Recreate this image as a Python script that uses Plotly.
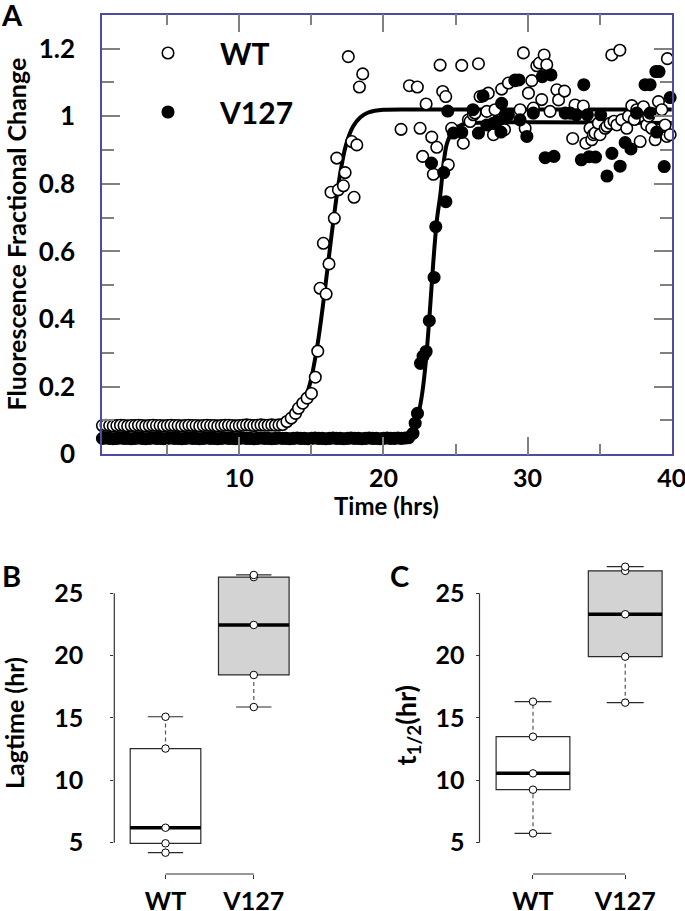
import plotly.graph_objects as go

FONT = "Lato"

# ---------------- Panel A data ----------------
wt_base_time = [0.5, 0.75, 1.0, 1.25, 1.5, 1.75, 2.0, 2.25, 2.5, 2.75, 3.0, 3.25, 3.5, 3.75,
                4.0, 4.25, 4.5, 4.75, 5.0, 5.25, 5.5, 5.75, 6.0, 6.25, 6.5, 6.75, 7.0, 7.25,
                7.5, 7.75, 8.0, 8.25, 8.5, 8.75, 9.0, 9.25, 9.5, 9.75, 10.0, 10.25, 10.5,
                10.75, 11.0, 11.25, 11.5, 11.75, 12.0, 12.25, 12.5, 12.75]
wt_base_val = [0.085, 0.086, 0.085, 0.084, 0.085, 0.086, 0.085, 0.084, 0.085, 0.085, 0.086, 0.085,
               0.084, 0.085, 0.086, 0.085, 0.085, 0.084, 0.085, 0.086, 0.085, 0.085, 0.084, 0.085,
               0.086, 0.085, 0.085, 0.084, 0.085, 0.086, 0.085, 0.085, 0.084, 0.085, 0.086, 0.086,
               0.085, 0.084, 0.085, 0.086, 0.087, 0.086, 0.085, 0.086, 0.087, 0.086, 0.086, 0.087,
               0.086, 0.087]
wt_rise_time = [13.0, 13.3, 13.6, 13.9, 14.1, 14.4, 14.7, 15.0, 15.27, 15.44, 15.60, 16.02,
                16.22, 15.83, 16.59, 16.36, 16.87, 17.22, 17.96, 17.34, 16.76, 17.80, 18.15,
                17.56, 18.56, 18.33]
wt_rise_val = [0.088, 0.097, 0.107, 0.121, 0.136, 0.151, 0.166, 0.180, 0.228, 0.305, 0.491, 0.474,
               0.563, 0.624, 0.698, 0.775, 0.782, 0.794, 0.760, 0.833, 0.876, 0.925, 0.915,
               1.176, 1.125, 1.086]
wt_plat_time = [21.22, 21.80, 22.35, 22.54, 22.72, 22.96, 23.35, 23.46, 23.70, 23.93, 24.11, 24.32,
                24.50, 24.73, 25.43, 25.54, 25.89, 26.01, 26.24, 26.35, 26.59, 26.70, 27.17, 27.27,
                27.63, 27.74, 28.20, 28.40, 28.67, 29.13, 29.48, 29.71, 29.83, 30.06, 30.29, 30.40,
                30.64, 30.82, 30.98, 31.15, 31.33, 31.56, 32.03, 32.15, 32.56, 33.13, 33.29, 33.87,
                34.04, 34.33, 34.45, 34.56, 34.68, 34.91, 35.03, 35.38, 35.50, 35.72, 35.84, 36.00,
                36.19, 36.40, 36.53, 36.88, 37.00, 37.23, 37.40, 37.57, 37.81, 38.04, 38.27, 38.40,
                38.61, 38.85, 39.08, 39.31, 39.54, 39.66, 39.70, 39.89]
wt_plat_val = [0.961, 1.090, 1.086, 0.964, 0.881, 1.036, 0.938, 0.828, 0.908, 1.151, 1.073, 1.058,
               0.856, 0.964, 1.150, 0.920, 0.989, 0.984, 1.004, 1.009, 1.155, 1.058, 1.014, 1.068,
               0.945, 1.019, 1.080, 0.960, 1.098, 1.105, 1.019, 1.187, 0.964, 1.068, 1.105, 1.024,
               1.149, 1.157, 1.049, 1.181, 1.152, 1.014, 1.078, 1.048, 1.074, 0.934, 1.033, 1.030,
               0.920, 0.964, 0.930, 0.945, 0.950, 0.979, 0.945, 0.964, 0.970, 0.979, 1.181, 0.985,
               0.974, 1.195, 0.989, 0.964, 1.000, 1.031, 0.990, 1.019, 0.925, 1.028, 0.974, 1.000,
               0.964, 0.930, 1.043, 1.019, 0.974, 0.940, 1.170, 0.945]

v127_base_time = [0.5, 0.75, 1.0, 1.25, 1.5, 1.75, 2.0, 2.25, 2.5, 2.75, 3.0, 3.25, 3.5, 3.75,
                  4.0, 4.25, 4.5, 4.75, 5.0, 5.25, 5.5, 5.75, 6.0, 6.25, 6.5, 6.75, 7.0, 7.25,
                  7.5, 7.75, 8.0, 8.25, 8.5, 8.75, 9.0, 9.25, 9.5, 9.75, 10.0, 10.25, 10.5,
                  10.75, 11.0, 11.25, 11.5, 11.75, 12.0, 12.25, 12.5, 12.75, 13.0, 13.25, 13.5,
                  13.75, 14.0, 14.25, 14.5, 14.75, 15.0, 15.25, 15.5, 15.75, 16.0, 16.25, 16.5,
                  16.75, 17.0, 17.25, 17.5, 17.75, 18.0, 18.25, 18.5, 18.75, 19.0, 19.25, 19.5,
                  19.75, 20.0, 20.25, 20.5, 20.75, 21.0, 21.25, 21.5, 21.75]
v127_base_val = [0.047, 0.048, 0.047, 0.046, 0.047, 0.048, 0.047, 0.047, 0.046, 0.047, 0.048, 0.047,
                 0.046, 0.047, 0.048, 0.047, 0.047, 0.046, 0.047, 0.048, 0.047, 0.047, 0.046, 0.047,
                 0.048, 0.047, 0.047, 0.046, 0.047, 0.048, 0.047, 0.047, 0.046, 0.047, 0.048, 0.047,
                 0.047, 0.046, 0.047, 0.048, 0.047, 0.047, 0.046, 0.047, 0.048, 0.047, 0.047, 0.046,
                 0.047, 0.048, 0.047, 0.047, 0.046, 0.047, 0.048, 0.047, 0.047, 0.046, 0.047, 0.048,
                 0.047, 0.047, 0.046, 0.047, 0.048, 0.047, 0.047, 0.046, 0.047, 0.048, 0.047, 0.047,
                 0.046, 0.047, 0.048, 0.047, 0.047, 0.046, 0.047, 0.048, 0.047, 0.047, 0.048, 0.047,
                 0.048, 0.049]
v127_rise_time = [22.05, 22.20, 22.36, 22.57, 22.75, 22.96, 23.18, 23.51, 23.63, 23.33, 24.18, 24.33]
v127_rise_val = [0.062, 0.092, 0.121, 0.269, 0.290, 0.304, 0.395, 0.523, 0.673, 0.861, 0.833, 0.747]
v127_plat_time = [24.46, 24.85, 25.43, 26.21, 26.59, 26.91, 27.17, 27.63, 27.86, 28.15, 28.20, 28.43,
                  28.67, 29.13, 29.40, 29.48, 29.95, 30.40, 31.02, 31.62, 31.22, 31.83, 32.61, 32.96,
                  33.38, 33.73, 33.90, 34.15, 34.27, 34.71, 35.07, 35.51, 35.85, 36.42, 36.77, 37.17,
                  37.57, 38.15, 38.50, 38.50, 38.90, 38.96, 39.12, 39.48, 39.89]
v127_plat_val = [1.015, 0.950, 0.952, 1.019, 0.950, 1.060, 0.974, 0.979, 0.984, 0.953, 1.038, 0.999,
                 1.004, 1.107, 1.107, 0.989, 0.940, 1.009, 1.117, 1.122, 0.877, 0.881, 1.009, 1.009,
                 1.004, 0.871, 1.093, 1.004, 0.880, 0.879, 1.004, 0.823, 0.890, 0.852, 0.922, 0.903,
                 1.009, 1.093, 1.093, 1.009, 1.132, 0.953, 1.132, 0.851, 1.055]

# fitted sigmoid curves
wt_fit_time = [0.5, 12.0, 12.9, 13.4, 13.9, 14.4, 14.9, 15.4, 15.9, 16.4, 16.9, 17.4, 17.9,
               18.4, 18.9, 19.4, 20.0, 22.0, 40.0]
wt_fit_val = [0.083, 0.084, 0.089, 0.097, 0.114, 0.146, 0.209, 0.318, 0.474, 0.649, 0.805, 0.915,
              0.970, 0.997, 1.010, 1.016, 1.019, 1.020, 1.020]
v127_fit_time = [0.5, 20.9, 21.4, 21.95, 22.2, 22.45, 22.7, 22.95, 23.2, 23.45, 23.7, 23.95, 24.2,
                 24.45, 24.95, 25.45, 26.0, 40.0]
v127_fit_val = [0.050, 0.051, 0.056, 0.071, 0.090, 0.124, 0.184, 0.279, 0.412, 0.564, 0.690, 0.770,
                0.870, 0.925, 0.962, 0.975, 0.979, 0.980]

wt_time = wt_base_time + wt_rise_time + wt_plat_time
wt_val = wt_base_val + wt_rise_val + wt_plat_val
v127_time = v127_base_time + v127_rise_time + v127_plat_time
v127_val = v127_base_val + v127_rise_val + v127_plat_val

# ---------------- Panels B and C data ----------------
groups = ["WT", "V127"]
lag_wt = [4.2, 4.95, 6.2, 12.55, 15.1]
lag_v127 = [15.88, 18.45, 22.46, 26.3, 26.47]
thalf_wt = [5.75, 9.25, 10.56, 13.5, 16.31]
thalf_v127 = [16.23, 19.92, 23.32, 26.8, 27.13]
box_ticks = [5, 10, 15, 20, 25]

FRAME = "#4b4ba3"
TICKGRAY = "#808080"

fig = go.Figure()

# fits
fig.add_trace(go.Scatter(x=wt_fit_time, y=wt_fit_val, mode="lines",
                         line=dict(color="black", width=4, shape="spline", smoothing=1),
                         showlegend=False, hoverinfo="skip"))
fig.add_trace(go.Scatter(x=v127_fit_time, y=v127_fit_val, mode="lines",
                         line=dict(color="black", width=4, shape="spline", smoothing=1),
                         showlegend=False, hoverinfo="skip"))
# data
fig.add_trace(go.Scatter(x=wt_time, y=wt_val, mode="markers", name="WT", legendgroup="wt",
                         cliponaxis=False,
                         marker=dict(symbol="circle", size=11.5, color="white",
                                     line=dict(color="black", width=1.6))))
fig.add_trace(go.Scatter(x=v127_time, y=v127_val, mode="markers", name="V127", legendgroup="v127",
                         cliponaxis=False,
                         marker=dict(symbol="circle", size=11.5, color="black",
                                     line=dict(color="black", width=1.6))))


def tukey(vals):
    s = sorted(vals)
    n = len(s)

    def med(a):
        m = len(a)
        return a[m // 2] if m % 2 else (a[m // 2 - 1] + a[m // 2]) / 2

    half = (n + 1) // 2
    return s, med(s[:half]), med(s), med(s[n - half:])


def add_box(xa, ya, pos, vals, fill):
    s, q1, md, q3 = tukey(vals)
    fig.add_trace(go.Box(x=[pos], q1=[q1], median=[md], q3=[q3], lowerfence=[q1], upperfence=[q3],
                         width=0.8, whiskerwidth=0, fillcolor=fill,
                         line=dict(color="#2a2a2a", width=1.2), boxpoints=False,
                         xaxis=xa, yaxis=ya, showlegend=False, hoverinfo="skip"))
    fig.add_trace(go.Scatter(x=[pos, pos, None, pos, pos], y=[s[0], q1, None, q3, s[-1]],
                             mode="lines", line=dict(color="#555555", width=1.2, dash="4px,3px"),
                             xaxis=xa, yaxis=ya, showlegend=False, hoverinfo="skip"))
    fig.add_trace(go.Scatter(x=[pos - 0.2, pos + 0.2, None, pos - 0.2, pos + 0.2],
                             y=[s[0], s[0], None, s[-1], s[-1]],
                             mode="lines", line=dict(color="#2a2a2a", width=1.2),
                             xaxis=xa, yaxis=ya, showlegend=False, hoverinfo="skip"))
    fig.add_trace(go.Scatter(x=[pos - 0.4, pos + 0.4], y=[md, md], mode="lines",
                             line=dict(color="black", width=3.5),
                             xaxis=xa, yaxis=ya, showlegend=False, hoverinfo="skip"))
    fig.add_trace(go.Scatter(x=[pos] * len(s), y=s, mode="markers", cliponaxis=False,
                             marker=dict(size=7.5, color="white", line=dict(color="black", width=1)),
                             xaxis=xa, yaxis=ya, showlegend=False, hoverinfo="skip"))


add_box("x2", "y2", 1, lag_wt, "white")
add_box("x2", "y2", 2, lag_v127, "#d3d3d3")
add_box("x3", "y3", 1, thalf_wt, "white")
add_box("x3", "y3", 2, thalf_v127, "#d3d3d3")

tick_font_big = dict(family=FONT, size=26, color="black", weight="bold")
tick_font_x = dict(family=FONT, size=25, color="black", weight="bold")
tick_font_box = dict(family=FONT, size=25, color="black", weight="bold")

H = 911.0
W = 685.0

fig.update_layout(
    width=685, height=911,
    margin=dict(l=0, r=0, t=0, b=0, autoexpand=False),
    paper_bgcolor="white", plot_bgcolor="white",
    font=dict(family=FONT, color="black"),
    showlegend=True,
    legend=dict(x=116 / W, y=1 - 27 / H, xanchor="left", yanchor="top",
                font=dict(family=FONT, size=30, weight="bold", color="black"),
                bgcolor="rgba(0,0,0,0)", itemwidth=94, tracegroupgap=17, itemsizing="trace"),
    xaxis=dict(domain=[102 / W, 672 / W], range=[0.47, 40.02], anchor="y", automargin=False,
               showline=True, linecolor=FRAME, linewidth=1.5, mirror="allticks",
               ticks="inside", ticklen=18, tickwidth=1.5, tickcolor=TICKGRAY,
               tick0=0, dtick=10, tickfont=tick_font_x, ticklabelstandoff=1,
               ticklabeloverflow="allow",
               minor=dict(ticks="inside", ticklen=11, dtick=5, tick0=0, tickwidth=1.5,
                          tickcolor=TICKGRAY, showgrid=False),
               showgrid=False, zeroline=False),
    yaxis=dict(domain=[1 - 454.3 / H, 1 - 14.7 / H], range=[0, 1.3], anchor="x", automargin=False,
               showline=True, linecolor=FRAME, linewidth=1.5, mirror="allticks",
               ticks="inside", ticklen=18, tickwidth=1.5, tickcolor=TICKGRAY,
               tick0=0, dtick=0.2, tickfont=tick_font_big, ticklabelstandoff=20,
               ticklabeloverflow="allow",
               minor=dict(ticks="inside", ticklen=12, dtick=0.1, tick0=0, tickwidth=1.5,
                          tickcolor=TICKGRAY, showgrid=False),
               showgrid=False, zeroline=False),
    xaxis2=dict(domain=[114.3 / W, 305 / W], range=[0.42, 2.58], anchor="y2", automargin=False,
                tickvals=[1, 2], ticktext=groups, ticks="outside", ticklen=4, tickcolor="#333333",
                tickfont=tick_font_box, ticklabelstandoff=1, ticklabeloverflow="allow",
                showline=False, showgrid=False, zeroline=False),
    yaxis2=dict(domain=[1 - 874 / H, 1 - 556 / H], range=[2.49, 27.99], anchor="x2", automargin=False,
                tickvals=box_ticks, ticks="outside", ticklen=3, tickcolor="#333333",
                tickfont=tick_font_box, ticklabelstandoff=22, ticklabeloverflow="allow",
                showline=False, showgrid=False, zeroline=False),
    xaxis3=dict(domain=[479.5 / W, 678.7 / W], range=[0.42, 2.58], anchor="y3", automargin=False,
                tickvals=[1, 2], ticktext=groups, ticks="outside", ticklen=4, tickcolor="#333333",
                tickfont=tick_font_box, ticklabelstandoff=1, ticklabeloverflow="allow",
                showline=False, showgrid=False, zeroline=False),
    yaxis3=dict(domain=[1 - 874 / H, 1 - 556 / H], range=[2.49, 27.99], anchor="x3", automargin=False,
                tickvals=box_ticks, ticks="outside", ticklen=3, tickcolor="#333333",
                tickfont=tick_font_box, ticklabelstandoff=6, ticklabeloverflow="allow",
                showline=False, showgrid=False, zeroline=False),
)

shapes = []
for xa, ya in (("x2", "y2"), ("x3", "y3")):
    shapes.append(dict(type="line", xref=f"{xa} domain", x0=0, x1=0, yref=ya,
                       y0=box_ticks[0], y1=box_ticks[-1], line=dict(color="#333333", width=1.2)))
    shapes.append(dict(type="line", xref=xa, x0=1, x1=2, yref=f"{ya} domain", y0=0, y1=0,
                       line=dict(color="#333333", width=1.2)))
fig.update_layout(shapes=shapes)

ann_font = lambda s: dict(family=FONT, size=s, color="black", weight="bold")
annotations = [
    dict(text="A", x=12 / W, y=1 - 15 / H, font=ann_font(29)),
    dict(text="B", x=11 / W, y=1 - 575 / H, font=ann_font(29)),
    dict(text="C", x=399 / W, y=1 - 575 / H, font=ann_font(29)),
    dict(text="Time (hrs)", x=387 / W, y=1 - 505 / H, font=ann_font(24)),
    dict(text="Fluorescence Fractional Change", x=15 / W, y=1 - 234.5 / H, font=ann_font(25),
         textangle=-90),
    dict(text="Lagtime (hr)", x=14 / W, y=1 - 723 / H, font=ann_font(25), textangle=-90),
    dict(text="t<sub>1/2</sub>(hr)", x=406.5 / W, y=1 - 725 / H, font=ann_font(27), textangle=-90),
]
for a in annotations:
    a.update(xref="paper", yref="paper", showarrow=False, xanchor="center", yanchor="middle")
fig.update_layout(annotations=annotations)

fig.write_html("out.html", config={"displayModeBar": False},
               post_script="document.body.style.margin='0px';document.body.style.overflow='hidden';")
